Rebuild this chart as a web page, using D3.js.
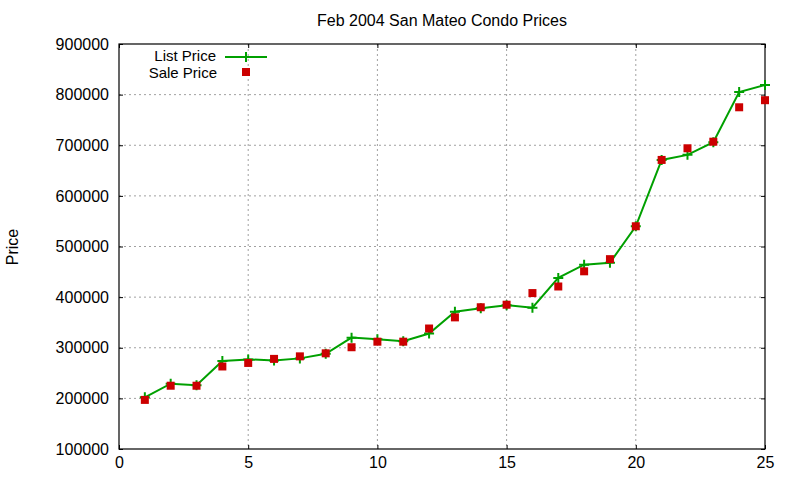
<!DOCTYPE html>
<html>
<head>
<meta charset="utf-8">
<script src="https://cdn.jsdelivr.net/npm/d3@7"></script>
<style>
  body { margin: 0; background: #fff; }
  text { font-family: "Liberation Sans", Arial, sans-serif; font-size: 16px; fill: #000; }
</style>
</head>
<body>
<div id="chart"></div>
<script>
// data
var units = [1, 2, 3, 4, 5, 6, 7, 8, 9, 10, 11, 12, 13, 14, 15, 16, 17, 18, 19, 20, 21, 22, 23, 24, 25];
var listPrice = [202000, 229000, 226000, 274000, 277000, 275000, 279000, 288000, 320000, 317000,
                 313000, 328000, 371000, 378000, 384000, 379000, 438000, 464000, 468000, 540000,
                 671000, 681000, 706000, 805000, 819000];
var salePrice = [197000, 225000, 225000, 263000, 270000, 278000, 283000, 289000, 301000, 312000,
                 312000, 338000, 360000, 380000, 385000, 408000, 421000, 451000, 475000, 540000,
                 671000, 694000, 707000, 775000, 789000];
var xTicks = [0, 5, 10, 15, 20, 25];
var yTicks = [100000, 200000, 300000, 400000, 500000, 600000, 700000, 800000, 900000];

var svgWidth = 800;
var svgHeight = 480;
var margin = { top: 44, right: 35, bottom: 31, left: 119 };
var width = svgWidth - margin.left - margin.right;
var height = svgHeight - margin.top - margin.bottom;

var svg = d3.select("#chart").append("svg")
  .attr("width", svgWidth)
  .attr("height", svgHeight);

var g = svg.append("g")
  .attr("transform", `translate(${margin.left}, ${margin.top})`);

var x = d3.scaleLinear().domain([0, 25]).range([0, width]);
var y = d3.scaleLinear().domain([100000, 900000]).range([height, 0]);

// grid
g.append("g").selectAll("line").data(xTicks.slice(1, -1)).join("line")
  .attr("x1", d => x(d)).attr("x2", d => x(d))
  .attr("y1", 0).attr("y2", height)
  .attr("stroke", "#a0a0a0").attr("stroke-dasharray", "2,3");
g.append("g").selectAll("line").data(yTicks.slice(1, -1)).join("line")
  .attr("x1", 0).attr("x2", width)
  .attr("y1", d => y(d)).attr("y2", d => y(d))
  .attr("stroke", "#a0a0a0").attr("stroke-dasharray", "2,3");

// axes, ticks inward and mirrored
function styleAxis(sel) {
  sel.select(".domain").remove();
  sel.selectAll(".tick line").attr("stroke", "#000");
  sel.selectAll("text").style("font-size", "16px").style("font-family", "Liberation Sans, Arial, sans-serif");
}
g.append("g").attr("transform", `translate(0,${height})`)
  .call(d3.axisBottom(x).tickValues(xTicks).tickSize(-4).tickPadding(8).tickFormat(d3.format("d")))
  .call(styleAxis);
g.append("g")
  .call(d3.axisTop(x).tickValues(xTicks).tickSize(-4).tickFormat(""))
  .call(styleAxis);
g.append("g")
  .call(d3.axisLeft(y).tickValues(yTicks).tickSize(-4).tickPadding(10).tickFormat(d3.format("d")))
  .call(styleAxis);
g.append("g").attr("transform", `translate(${width},0)`)
  .call(d3.axisRight(y).tickValues(yTicks).tickSize(-4).tickFormat(""))
  .call(styleAxis);

g.append("rect")
  .attr("width", width).attr("height", height)
  .attr("fill", "none").attr("stroke", "#000").attr("stroke-width", 1.2);

// list price line
var line = d3.line().x((d, i) => x(units[i])).y(d => y(d));
g.append("path").datum(listPrice)
  .attr("d", line)
  .attr("fill", "none").attr("stroke", "#00a000").attr("stroke-width", 2);

g.append("g").selectAll("path").data(listPrice).join("path")
  .attr("transform", (d, i) => `translate(${x(units[i])},${y(d)})`)
  .attr("d", "M-5,0H5M0,-5V5")
  .attr("stroke", "#00a000").attr("stroke-width", 2);

// sale price points
g.append("g").selectAll("rect").data(salePrice).join("rect")
  .attr("x", (d, i) => x(units[i]) - 4)
  .attr("y", d => y(d) - 4)
  .attr("width", 8).attr("height", 8)
  .attr("fill", "#cc0000");

// legend
var legend = svg.append("g");
legend.append("text").attr("x", 216).attr("y", 61).attr("text-anchor", "end")
  .style("font-size", "15px").text("List Price");
legend.append("line").attr("x1", 225).attr("x2", 267).attr("y1", 57).attr("y2", 57)
  .attr("stroke", "#00a000").attr("stroke-width", 2);
legend.append("path").attr("transform", "translate(246,57)").attr("d", "M-5,0H5M0,-5V5")
  .attr("stroke", "#00a000").attr("stroke-width", 2);
legend.append("text").attr("x", 217).attr("y", 78).attr("text-anchor", "end")
  .style("font-size", "15px").text("Sale Price");
legend.append("rect").attr("x", 242).attr("y", 68).attr("width", 8).attr("height", 8).attr("fill", "#cc0000");

// title and label
svg.append("text").attr("x", 442).attr("y", 26).attr("text-anchor", "middle")
  .text("Feb 2004 San Mateo Condo Prices");
svg.append("text").attr("transform", "translate(18,247) rotate(-90)").attr("text-anchor", "middle")
  .text("Price");
</script>
</body>
</html>
